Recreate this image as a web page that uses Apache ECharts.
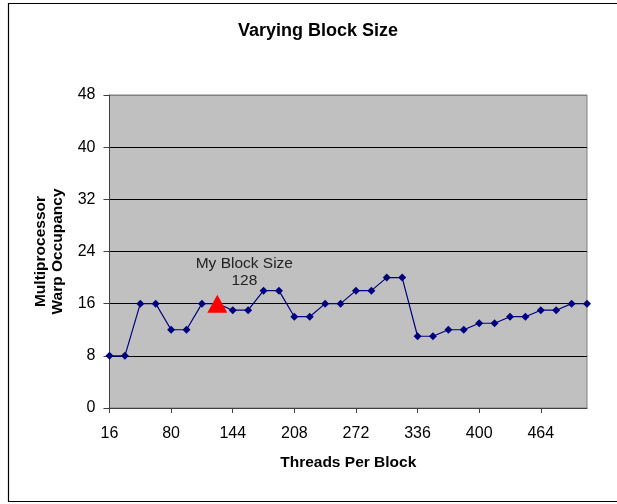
<!DOCTYPE html>
<html>
<head>
<meta charset="utf-8">
<script src="https://cdn.jsdelivr.net/npm/echarts@6/dist/echarts.min.js"></script>
<style>
html,body{margin:0;padding:0;background:#fff;}
#c{width:617px;height:504px;}
</style>
</head>
<body>
<div id="c"></div>
<script>
const threads = [16,32,48,64,80,96,112,128,144,160,176,192,208,224,240,256,272,288,304,320,336,352,368,384,400,416,432,448,464,480,496,512];
const occupancy = [8,8,16,16,12,12,16,16,15,15,18,18,14,14,16,16,18,18,20,20,11,11,12,12,13,13,14,14,15,15,16,16];
const myBlockSize = 128;
const myOccupancy = 16;
const yTicks = [0,8,16,24,32,40,48];

const chart = echarts.init(document.getElementById('c'), null, {renderer:'canvas'});
const font = 'Arial, "Liberation Sans", sans-serif';
chart.setOption({
  animation:false,
  backgroundColor:'#fff',
  textStyle:{fontFamily:font},
  title:{
    text:'Varying Block Size',
    left:318, top:22, textAlign:'center', padding:0,
    textStyle:{fontFamily:font, fontSize:18, fontWeight:'bold', color:'#000'}
  },
  graphic:[{
    type:'rect', shape:{x:8.5,y:3.5,width:620,height:498},
    style:{fill:'none', stroke:'#000', lineWidth:1.2}, silent:true, z:-1
  }],
  grid:{left:109.5, right:30, top:95, bottom:96, show:true,
    backgroundColor:'#C0C0C0', borderColor:'#808080', borderWidth:1},
  xAxis:{
    type:'category', data:threads, boundaryGap:false,
    name:'Threads Per Block', nameLocation:'middle', nameGap:47,
    nameTextStyle:{fontFamily:font, fontSize:15.5, fontWeight:'bold', color:'#000'},
    axisLine:{lineStyle:{color:'#404040', width:1}},
    axisTick:{show:true, interval:3, length:5, inside:false, lineStyle:{color:'#404040'}},
    axisLabel:{interval:3, margin:18, fontSize:16, color:'#000', fontFamily:font},
    splitLine:{show:false}
  },
  yAxis:{
    type:'value', min:yTicks[0], max:yTicks[yTicks.length-1], interval:8,
    name:'Multiprocessor\nWarp Occupancy', nameLocation:'middle', nameGap:43,
    nameTextStyle:{fontFamily:font, fontSize:15.5, fontWeight:'bold', color:'#000', lineHeight:17},
    axisLine:{show:true, lineStyle:{color:'#404040', width:1}},
    axisTick:{show:true, length:6, lineStyle:{color:'#404040'}},
    axisLabel:{margin:14, fontSize:16, color:'#000', fontFamily:font},
    splitLine:{show:true, lineStyle:{color:['#404040','#000','#000','#000','#000','#000','#808080'], width:1}}
  },
  series:[{
    type:'line', data:occupancy,
    symbol:'diamond', symbolSize:8,
    lineStyle:{color:'#000080', width:1.2},
    itemStyle:{color:'#000080'},
    z:2
  },{
    type:'scatter',
    data:[[String(myBlockSize), myOccupancy]],
    symbol:'triangle', symbolSize:[20,18],
    itemStyle:{color:'#FF0000', opacity:1},
    label:{show:true, position:'top', distance:5, offset:[27,0],
      formatter:'My Block Size\n' + myBlockSize,
      fontFamily:font, fontSize:15.5, color:'#222', lineHeight:17, align:'center'},
    z:3
  }]
});
</script>
</body>
</html>
